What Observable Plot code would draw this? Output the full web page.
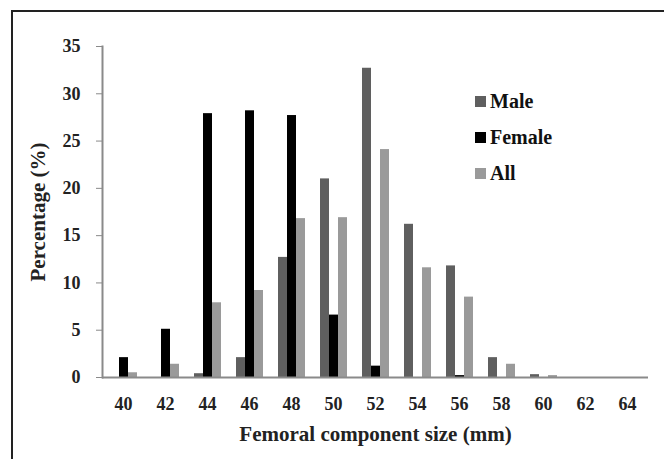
<!DOCTYPE html>
<html>
<head>
<meta charset="utf-8">
<script src="https://cdn.jsdelivr.net/npm/d3@7"></script>
<script src="https://cdn.jsdelivr.net/npm/@observablehq/plot@0.6"></script>
<style>
  html, body { margin: 0; padding: 0; background: #fff; }
  #wrap { position: relative; width: 664px; height: 459px; overflow: hidden; font-family: "Liberation Serif", "Times New Roman", serif; }
  #chart { position: absolute; left: 0; top: 0; z-index: 1; }
  #border { position: absolute; left: 11px; top: 10px; width: 660px; height: 460px; border-top: 2px solid #222; border-left: 2px solid #222; z-index: 2; pointer-events: none; }
  #legend { position: absolute; left: 475px; top: 83px; font-weight: bold; font-size: 20px; color: #111; z-index: 3; }
  .row { display: flex; align-items: center; height: 36px; }
  .sw { width: 11px; height: 11px; margin-right: 4px; }
  #chart g[aria-label="y-axis label"], #chart g[aria-label="fx-axis label"] { font-size: 21px; }
</style>
</head>
<body>
<div id="wrap"><div id="chart"></div><div id="border"></div><div id="legend"></div></div>
<script>
const sizes = [40, 42, 44, 46, 48, 50, 52, 54, 56, 58, 60, 62, 64];
const series = ["Male", "Female", "All"];
const male   = [0, 0, 0.4, 2.1, 12.7, 21.0, 32.7, 16.2, 11.8, 2.1, 0.3, 0, 0];
const female = [2.1, 5.1, 27.9, 28.2, 27.7, 6.6, 1.2, 0, 0.2, 0, 0, 0, 0];
const all    = [0.5, 1.4, 7.9, 9.2, 16.8, 16.9, 24.1, 11.6, 8.5, 1.4, 0.2, 0, 0];
const yTicks = [0, 5, 10, 15, 20, 25, 30, 35];
const colors = ["#5f5f5f", "#000000", "#9a9a9a"];

const values = { Male: male, Female: female, All: all };
const data = [];
sizes.forEach((s, i) => series.forEach(k => data.push({ size: s, series: k, value: values[k][i] })));

const chart = Plot.plot({
  width: 664, height: 459,
  marginLeft: 101, marginRight: 15, marginTop: 46, marginBottom: 82,
  style: { fontFamily: "'Liberation Serif', 'Times New Roman', serif", fontWeight: "bold", fontSize: "18px", background: "transparent", color: "#222" },
  fx: { domain: sizes, padding: 0 },
  x: { domain: series, paddingInner: 0, paddingOuter: 0.75, axis: null },
  y: { domain: [0, 35] },
  color: { domain: series, range: colors },
  marks: [
    Plot.barY(data, { fx: "size", x: "series", y: "value", fill: "series" }),
    Plot.ruleY([0], { stroke: "#8a8a8a", strokeWidth: 2 }),
    Plot.frame({ anchor: "left", facetAnchor: "left", stroke: "#8a8a8a", strokeWidth: 2 }),
    Plot.axisY({ ticks: yTicks, tickSize: 6, tickPadding: 16, stroke: "#8a8a8a", fill: "#222",
                 label: "Percentage (%)", labelAnchor: "center", labelArrow: "none", labelOffset: 72 }),
    Plot.axisFx({ anchor: "bottom", tickSize: 0, tickPadding: 20, fill: "#222",
                  label: "Femoral component size (mm)", labelAnchor: "center", labelArrow: "none", labelOffset: 63 })
  ]
});
document.getElementById("chart").appendChild(chart);

const legend = document.getElementById("legend");
series.forEach((k, i) => {
  const row = document.createElement("div");
  row.className = "row";
  row.innerHTML = `<span class="sw" style="background:${colors[i]}"></span><span>${k}</span>`;
  legend.appendChild(row);
});
</script>
</body>
</html>
